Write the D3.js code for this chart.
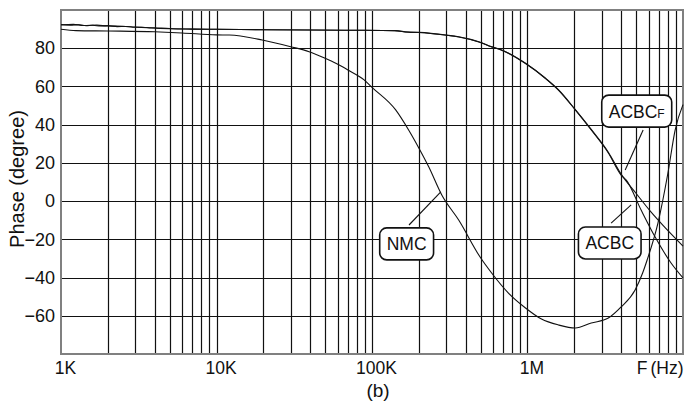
<!DOCTYPE html>
<html><head><meta charset="utf-8">
<script src="https://cdn.jsdelivr.net/npm/d3@7"></script>
<style>
html,body{margin:0;padding:0;background:#fff;}
svg{display:block;font-family:"Liberation Sans",Arial,Helvetica,sans-serif;}
</style></head>
<body>
<svg id="chart" width="684" height="402"></svg>
<script>
// ---- data ----
const xTickValues = [1e3, 1e4, 1e5, 1e6, 1e7];
const xTickLabels = ["1K", "10K", "100K", "1M", "F(Hz)"];
const yTickValues = [-60, -40, -20, 0, 20, 40, 60, 80];

const freqNMC  = [1e3, 1.25e3, 2e3, 4e3, 6e3, 1e4, 1.21e4, 1.97e4, 3e4, 3.94e4, 5e4, 5.85e4, 7e4, 8.9e4, 1e5, 1.42e5, 1.72e5, 2e5, 2.32e5, 2.81e5, 3.61e5, 4.98e5, 5.88e5, 7.54e5, 9.71e5, 1.23e6, 1.58e6, 2.03e6, 2.57e6, 3.31e6, 4.0e6, 4.92e6, 5.5e6, 5.88e6, 6.9e6, 8.0e6, 8.9e6, 1e7];
const phaseNMC = [89.9, 89.2, 89.0, 88.6, 88.0, 87.0, 86.9, 84.3, 80.8, 78.2, 74.7, 72.1, 68.6, 63.4, 59.5, 47.7, 37.2, 27.8, 17.8, 3.2, -9.9, -29.5, -37.6, -48.1, -55.9, -61.7, -64.8, -66.4, -63.8, -61.2, -55.4, -46.5, -37.6, -30.8, -11.5, 14.7, 37.2, 50.5];

const freqACBC  = [1e3, 1.15e3, 1.3e3, 1.45e3, 1.6e3, 1.8e3, 2.0e3, 2.3e3, 2.6e3, 2.9e3, 3.3e3, 3.8e3, 5e3, 7e3, 1e4, 2e4, 4e4, 8e4, 1.4e5, 1.7e5, 2e5, 3e5, 3.61e5, 4.86e5, 5.88e5, 6.81e5, 9.71e5, 1.3e6, 1.58e6, 2.03e6, 2.57e6, 3.31e6, 4.01e6, 4.32e6, 5.38e6, 6.62e6, 8.38e6, 1e7];
const phaseACBC = [92.4, 92.1, 92.3, 91.8, 92.0, 91.6, 91.8, 91.3, 91.4, 91.0, 90.9, 90.6, 90.2, 90.0, 89.9, 89.7, 89.5, 89.4, 89.2, 88.5, 88.3, 86.9, 86.0, 83.4, 80.8, 79.1, 72.1, 64.3, 58.1, 47.7, 37.2, 25.2, 13.5, 11.0, -4.7, -18.8, -32.4, -40.2];

const freqACBCF  = [1e3, 1.2e3, 1.4e3, 1.7e3, 2.0e3, 2.5e3, 3e3, 4e3, 5e3, 7e3, 1e4, 2e4, 4e4, 8e4, 1.4e5, 1.7e5, 2e5, 3e5, 3.61e5, 4.86e5, 5.88e5, 6.81e5, 9.71e5, 1.3e6, 1.58e6, 2.03e6, 2.57e6, 3.31e6, 4.01e6, 5.0e6, 6.2e6, 7.7e6, 1e7];
const phaseACBCF = [92.2, 92.5, 91.9, 92.1, 91.6, 91.5, 91.1, 90.7, 90.3, 90.0, 89.9, 89.7, 89.5, 89.4, 89.2, 88.4, 88.2, 86.8, 85.9, 83.3, 80.7, 79.0, 72.0, 64.4, 58.3, 47.9, 37.5, 25.6, 14.0, 4.0, -5.5, -14.0, -23.5];

const labelNames   = ["NMC", "ACBC", "ACBC"];
const labelSubs    = ["", "", "F"];
const labelFreq    = [1.67e5, 3.38e6, 5.04e6];
const labelPhase   = [-22.4, -21.9, 47.1];
const leaderFrom   = [[1.73e5, -12.5], [3.45e6, -11.5], [5.54e6, 37.2]];
const leaderTo     = [[2.77e5, 4.8], [4.64e6, -2.0], [4.25e6, 16.3]];

// ---- layout ----
const svg = d3.select("#chart");
const x = d3.scaleLog().domain([1e3, 1e7]).range([61, 683]);
const y = d3.scaleLinear().domain([-80, 100]).range([354, 10]);
const ink = "#111";

// grid
const gridX = [];
for (let d = 1e3; d < 1e7; d *= 10) for (let k = 2; k <= 9; k++) gridX.push(d * k);
gridX.push(1e4, 1e5, 1e6);
svg.append("g").selectAll("line").data(gridX).join("line")
  .attr("x1", d => Math.round(x(d)) + 0.5).attr("x2", d => Math.round(x(d)) + 0.5)
  .attr("y1", y(100)).attr("y2", y(-80))
  .attr("stroke", ink).attr("stroke-width", 1.2);
svg.append("g").selectAll("line").data(yTickValues).join("line")
  .attr("y1", d => Math.round(y(d)) + 0.5).attr("y2", d => Math.round(y(d)) + 0.5)
  .attr("x1", x(1e3)).attr("x2", x(1e7))
  .attr("stroke", ink).attr("stroke-width", 1.2);

// frame
svg.append("rect")
  .attr("x", x(1e3)).attr("y", y(100))
  .attr("width", x(1e7) - x(1e3)).attr("height", y(-80) - y(100))
  .attr("fill", "none").attr("stroke", "#808080").attr("stroke-width", 2);

// axes
const xAxis = svg.append("g").attr("transform", `translate(0,${y(-80)})`)
  .call(d3.axisBottom(x).tickValues(xTickValues)
    .tickFormat((d, i) => xTickLabels[i]).tickSize(0).tickPadding(8));
xAxis.select(".domain").remove();
xAxis.selectAll("text").attr("font-size", 17.5).attr("fill", ink)
  .attr("font-family", "Liberation Sans, Arial, sans-serif")
  .attr("dx", 4)
  .filter((d, i) => i === xTickLabels.length - 1)
  .attr("text-anchor", "end").attr("dx", 0).text(null)
  .call(t => { t.append("tspan").text("F"); t.append("tspan").attr("dx", 3).text("(Hz)"); });

const yAxis = svg.append("g").attr("transform", `translate(${x(1e3)},0)`)
  .call(d3.axisLeft(y).tickValues(yTickValues).tickSize(0).tickPadding(6));
yAxis.select(".domain").remove();
yAxis.selectAll("text").attr("font-size", 18).attr("fill", ink)
  .attr("font-family", "Liberation Sans, Arial, sans-serif");

svg.append("text")
  .attr("transform", `translate(24,${(y(100) + y(-80)) / 2 - 3}) rotate(-90)`)
  .attr("text-anchor", "middle").attr("font-size", 20).attr("fill", ink)
  .text("Phase (degree)");

svg.append("text").attr("x", 378).attr("y", 397)
  .attr("text-anchor", "middle").attr("font-size", 19).attr("fill", ink)
  .text("(b)");

// curves
const line = d3.line().x(d => x(d[0])).y(d => y(d[1])).curve(d3.curveMonotoneX);
const series = [
  [freqNMC, phaseNMC],
  [freqACBC, phaseACBC],
  [freqACBCF, phaseACBCF]
];
const plot = svg.append("g");
series.forEach(([f, p]) => {
  plot.append("path").datum(f.map((v, i) => [v, p[i]]))
    .attr("d", line).attr("fill", "none").attr("stroke", ink).attr("stroke-width", 1.1);
});

// annotations
labelNames.forEach((name, i) => {
  svg.append("line")
    .attr("x1", x(leaderFrom[i][0])).attr("y1", y(leaderFrom[i][1]))
    .attr("x2", x(leaderTo[i][0])).attr("y2", y(leaderTo[i][1]))
    .attr("stroke", ink).attr("stroke-width", 1.1);
  const g = svg.append("g").attr("transform", `translate(${x(labelFreq[i])},${y(labelPhase[i])})`);
  const rect = g.append("rect").attr("fill", "#fff").attr("stroke", ink)
    .attr("stroke-width", 1.6).attr("rx", 7).attr("ry", 7);
  const t = g.append("text").attr("text-anchor", "middle").attr("y", 6.5)
    .attr("font-size", 17.5).attr("fill", ink);
  t.append("tspan").text(name);
  if (labelSubs[i]) t.append("tspan").attr("font-size", 12).text(labelSubs[i]);
  const bb = t.node().getBBox();
  const w = bb.width + 14, h = 32;
  rect.attr("x", -w / 2).attr("y", -h / 2).attr("width", w).attr("height", h);
});
</script>
</body></html>
